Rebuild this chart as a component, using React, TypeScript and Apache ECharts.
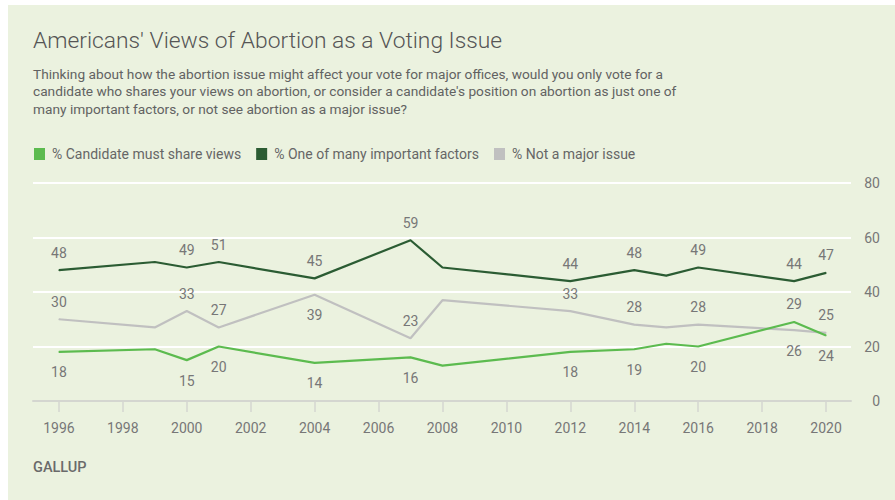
import React, { useEffect, useRef } from "react";
import * as echarts from "echarts";

const years = [1996, 1999, 2000, 2001, 2004, 2007, 2008, 2012, 2014, 2015, 2016, 2019, 2020];
const mustShare = [18, 19, 15, 20, 14, 16, 13, 18, 19, 21, 20, 29, 24];
const oneOfMany = [48, 51, 49, 51, 45, 59, 49, 44, 48, 46, 49, 44, 47];
const notMajor = [30, 27, 33, 27, 39, 23, 37, 33, 28, 27, 28, 26, 25];

// labelled years per series, and which ones sit above the line
const mustShareLabelled = [1996, 2000, 2001, 2004, 2007, 2012, 2014, 2016, 2019, 2020];
const mustShareAbove = [2019];
const oneOfManyLabelled = [1996, 2000, 2001, 2004, 2007, 2012, 2014, 2016, 2019, 2020];
const oneOfManyAbove = [1996, 2000, 2001, 2004, 2007, 2012, 2014, 2016, 2019, 2020];
const notMajorLabelled = [1996, 2000, 2001, 2004, 2007, 2012, 2014, 2016, 2019, 2020];
const notMajorAbove = [1996, 2000, 2001, 2007, 2012, 2014, 2016, 2020];

const xTickYears = [1996, 1998, 2000, 2002, 2004, 2006, 2008, 2010, 2012, 2014, 2016, 2018, 2020];

const seriesNames = ["% Candidate must share views", "% One of many important factors", "% Not a major issue"];

const FONT = "Roboto, 'Noto Sans', sans-serif";
const LABEL_COLOR = "#777777";

function buildData(values: number[], labelled: number[], above: number[]) {
  return years.map((yr, i) => {
    const show = labelled.includes(yr);
    const top = above.includes(yr);
    return {
      value: [yr, values[i]],
      label: {
        show,
        position: top ? "top" : "bottom",
        distance: top ? 10 : 13,
        color: LABEL_COLOR,
        fontSize: 14,
        fontFamily: FONT,
      },
    };
  });
}

export default function App() {
  const ref = useRef<HTMLDivElement>(null);
  useEffect(() => {
    if (!ref.current) return;
    const chart = echarts.init(ref.current, undefined, { renderer: "svg" });
    const mkSeries = (name: string, color: string, data: any[], z: number) => ({
      type: "line",
      name,
      data,
      z,
      symbol: "circle",
      symbolSize: 1,
      showSymbol: true,
      itemStyle: { color },
      lineStyle: { color, width: 2.2 },
      emphasis: { disabled: true },
      label: { show: false },
    });
    chart.setOption({
      animation: false,
      backgroundColor: "#ffffff",
      textStyle: { fontFamily: FONT },
      graphic: [
        {
          type: "rect",
          z: -10,
          silent: true,
          shape: { x: 8, y: 5, width: 887, height: 495 },
          style: { fill: "#ebf2df" },
        },
      ],
      title: [
        {
          text: "Americans' Views of Abortion as a Voting Issue",
          left: 33,
          top: 27,
          padding: 0,
          textStyle: { fontSize: 22.8, fontWeight: 300, color: "#555555", fontFamily: FONT, lineHeight: 26 },
        },
        {
          text:
            "Thinking about how the abortion issue might affect your vote for major offices, would you only vote for a\n" +
            "candidate who shares your views on abortion, or consider a candidate's position on abortion as just one of\n" +
            "many important factors, or not see abortion as a major issue?",
          left: 33,
          top: 65,
          padding: 0,
          textStyle: { fontSize: 13.7, fontWeight: 400, color: "#626262", fontFamily: FONT, lineHeight: 17.5 },
        },
        {
          text: "GALLUP",
          left: 33,
          top: 460,
          padding: 0,
          textStyle: { fontSize: 14.5, fontWeight: 500, color: "#6a6a6a", fontFamily: FONT },
        },
      ],
      legend: {
        left: 34,
        top: 147,
        padding: 0,
        icon: "rect",
        itemWidth: 11,
        itemHeight: 12,
        itemGap: 15,
        selectedMode: false,
        data: seriesNames,
        textStyle: { fontSize: 14, color: "#666666", fontFamily: FONT, padding: [0, 0, 0, 2] },
      },
      grid: { left: 33, right: 44, top: 183, bottom: 99 },
      xAxis: {
        type: "value",
        min: 1995.19,
        max: 2020.78,
        axisLine: { show: true, lineStyle: { color: "#d4d6d0", width: 2 } },
        axisTick: {
          show: true,
          customValues: xTickYears,
          length: 11,
          lineStyle: { color: "#d4d6d0", width: 1.5 },
        },
        axisLabel: {
          customValues: xTickYears,
          formatter: (v: number) => String(v),
          margin: 20,
          fontSize: 14,
          color: LABEL_COLOR,
          fontFamily: FONT,
        },
        splitLine: { show: false },
      },
      yAxis: {
        type: "value",
        position: "right",
        min: 0,
        max: 80,
        interval: 20,
        axisLine: { show: false },
        axisTick: { show: false },
        axisLabel: { margin: 29, align: "right", fontSize: 14, color: LABEL_COLOR, fontFamily: FONT },
        splitLine: { show: true, lineStyle: { color: "#ffffff", width: 2 } },
      },
      series: [
        mkSeries(seriesNames[0], "#5cbb4f", buildData(mustShare, mustShareLabelled, mustShareAbove), 3),
        mkSeries(seriesNames[1], "#2b5c33", buildData(oneOfMany, oneOfManyLabelled, oneOfManyAbove), 4),
        mkSeries(seriesNames[2], "#c0c0c0", buildData(notMajor, notMajorLabelled, notMajorAbove), 2),
      ],
    });
    return () => chart.dispose();
  }, []);
  return <div ref={ref} style={{ position: "absolute", left: 0, top: 0, width: 895, height: 500 }} />;
}
